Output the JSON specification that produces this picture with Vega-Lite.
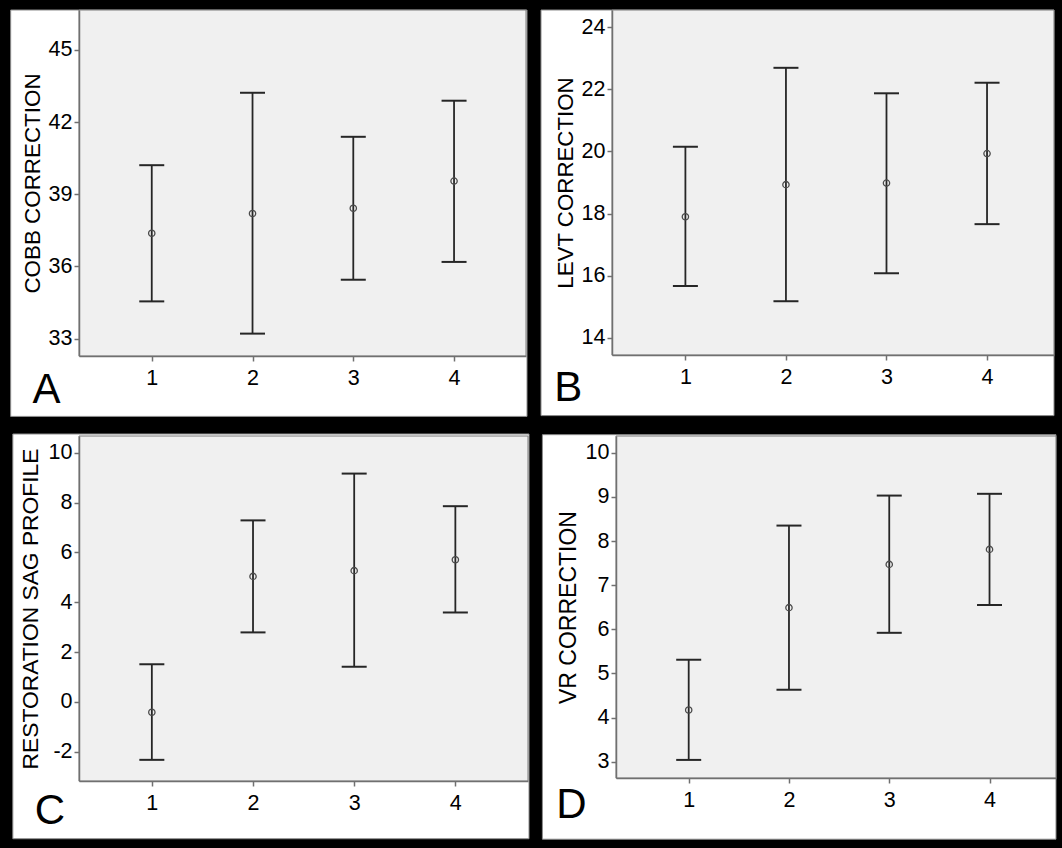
{
  "$schema": "https://vega.github.io/schema/vega-lite/v6.json",
  "background": "#000000",
  "padding": {"left": 10, "top": 9, "right": 8, "bottom": 9},
  "spacing": 16,
  "vconcat": [
    {
      "spacing": 12,
      "hconcat": [
        {
          "width": 447, "height": 346,
          "data": {"values": [
            {"g": 1, "lo": 34.55, "mean": 37.38, "hi": 40.21},
            {"g": 2, "lo": 33.21, "mean": 38.20, "hi": 43.22},
            {"g": 3, "lo": 35.45, "mean": 38.42, "hi": 41.39},
            {"g": 4, "lo": 36.19, "mean": 39.55, "hi": 42.89}
          ]},
          "layer": [
            {
              "data": {"values": [{"part": "panel"}]},
              "mark": {"type": "rect", "clip": false, "fill": "#ffffff", "stroke": "#8c8c8c", "strokeWidth": 1},
              "encoding": {
                "x": {"datum": -0.4, "type": "quantitative", "scale": {"domain": [0.278, 4.714], "nice": false, "zero": false},
                  "axis": {"zindex": 1, "labelFontSize": 21.5, "labelFont": "Liberation Sans", "labelPadding": 6, "values": [1, 2, 3, 4], "labelExpr": "'' + datum.value", "title": "A", "titleFontSize": 42, "titleX": -33, "titleY": 46.5, "titleAlign": "center", "titleBaseline": "alphabetic", "titleAngle": 0}},
                "x2": {"datum": 4.724},
                "y": {"datum": 29.77, "type": "quantitative", "scale": {"domain": [32.28, 46.66], "nice": false, "zero": false},
                  "axis": {"zindex": 1, "labelFontSize": 21.5, "labelFont": "Liberation Sans", "labelPadding": 2, "values": [33, 36, 39, 42, 45], "labelExpr": "'' + datum.value", "title": "COBB CORRECTION", "titleFontSize": 22.4, "titleX": -46.7, "titleAngle": 270, "titleBaseline": "middle", "titleAlign": "center"}},
                "y2": {"datum": 46.66}
              }
            },
            {
              "data": {"values": [{"part": "plot"}]},
              "mark": {"type": "rect", "clip": false, "fill": "#f0f0f0", "stroke": "#7a7a7a", "strokeWidth": 1},
              "encoding": {
                "x": {"datum": 0.278, "type": "quantitative", "scale": {"domain": [0.278, 4.714], "nice": false, "zero": false}},
                "x2": {"datum": 4.714},
                "y": {"datum": 32.28, "type": "quantitative", "scale": {"domain": [32.28, 46.66], "nice": false, "zero": false}},
                "y2": {"datum": 46.66}
              }
            },
            {
              "mark": {"type": "rule", "color": "#262626", "strokeWidth": 1.8},
              "encoding": {
                "x": {"field": "g", "type": "quantitative", "scale": {"domain": [0.278, 4.714], "nice": false, "zero": false}},
                "y": {"field": "lo", "type": "quantitative", "scale": {"domain": [32.28, 46.66], "nice": false, "zero": false}},
                "y2": {"field": "hi"}
              }
            },
            {
              "mark": {"type": "tick", "orient": "horizontal", "size": 25, "thickness": 2, "color": "#262626", "opacity": 1},
              "encoding": {
                "x": {"field": "g", "type": "quantitative", "scale": {"domain": [0.278, 4.714], "nice": false, "zero": false}},
                "y": {"field": "lo", "type": "quantitative", "scale": {"domain": [32.28, 46.66], "nice": false, "zero": false}}
              }
            },
            {
              "mark": {"type": "tick", "orient": "horizontal", "size": 25, "thickness": 2, "color": "#262626", "opacity": 1},
              "encoding": {
                "x": {"field": "g", "type": "quantitative", "scale": {"domain": [0.278, 4.714], "nice": false, "zero": false}},
                "y": {"field": "hi", "type": "quantitative", "scale": {"domain": [32.28, 46.66], "nice": false, "zero": false}}
              }
            },
            {
              "mark": {"type": "point", "shape": "circle", "filled": false, "size": 40, "color": "#4a4a4a", "strokeWidth": 1.3, "opacity": 1},
              "encoding": {
                "x": {"field": "g", "type": "quantitative", "scale": {"domain": [0.278, 4.714], "nice": false, "zero": false}},
                "y": {"field": "mean", "type": "quantitative", "scale": {"domain": [32.28, 46.66], "nice": false, "zero": false}}
              }
            }
          ]
        },
        {
          "width": 442, "height": 345,
          "data": {"values": [
            {"g": 1, "lo": 15.67, "mean": 17.90, "hi": 20.15},
            {"g": 2, "lo": 15.18, "mean": 18.93, "hi": 22.69},
            {"g": 3, "lo": 16.08, "mean": 18.98, "hi": 21.87},
            {"g": 4, "lo": 17.66, "mean": 19.93, "hi": 22.21}
          ]},
          "layer": [
            {
              "data": {"values": [{"part": "panel"}]},
              "mark": {"type": "rect", "clip": false, "fill": "#ffffff", "stroke": "#8c8c8c", "strokeWidth": 1},
              "encoding": {
                "x": {"datum": -0.436, "type": "quantitative", "scale": {"domain": [0.27, 4.666], "nice": false, "zero": false},
                  "axis": {"zindex": 1, "labelFontSize": 21.5, "labelFont": "Liberation Sans", "labelPadding": 6, "values": [1, 2, 3, 4], "labelExpr": "'' + datum.value", "title": "B", "titleFontSize": 42, "titleX": -44.2, "titleY": 45.7, "titleAlign": "center", "titleBaseline": "alphabetic", "titleAngle": 0}},
                "x2": {"datum": 4.666},
                "y": {"datum": 11.5, "type": "quantitative", "scale": {"domain": [13.45, 24.55], "nice": false, "zero": false},
                  "axis": {"zindex": 1, "labelFontSize": 21.5, "labelFont": "Liberation Sans", "labelPadding": 2, "values": [14, 16, 18, 20, 22, 24], "labelExpr": "'' + datum.value", "title": "LEVT CORRECTION", "titleFontSize": 22.3, "titleX": -46.2, "titleAngle": 270, "titleBaseline": "middle", "titleAlign": "center"}},
                "y2": {"datum": 24.55}
              }
            },
            {
              "data": {"values": [{"part": "plot"}]},
              "mark": {"type": "rect", "clip": false, "fill": "#f0f0f0", "stroke": "#7a7a7a", "strokeWidth": 1},
              "encoding": {
                "x": {"datum": 0.27, "type": "quantitative", "scale": {"domain": [0.27, 4.666], "nice": false, "zero": false}},
                "x2": {"datum": 4.666},
                "y": {"datum": 13.45, "type": "quantitative", "scale": {"domain": [13.45, 24.55], "nice": false, "zero": false}},
                "y2": {"datum": 24.55}
              }
            },
            {
              "mark": {"type": "rule", "color": "#262626", "strokeWidth": 1.8},
              "encoding": {
                "x": {"field": "g", "type": "quantitative", "scale": {"domain": [0.27, 4.666], "nice": false, "zero": false}},
                "y": {"field": "lo", "type": "quantitative", "scale": {"domain": [13.45, 24.55], "nice": false, "zero": false}},
                "y2": {"field": "hi"}
              }
            },
            {
              "mark": {"type": "tick", "orient": "horizontal", "size": 25, "thickness": 2, "color": "#262626", "opacity": 1},
              "encoding": {
                "x": {"field": "g", "type": "quantitative", "scale": {"domain": [0.27, 4.666], "nice": false, "zero": false}},
                "y": {"field": "lo", "type": "quantitative", "scale": {"domain": [13.45, 24.55], "nice": false, "zero": false}}
              }
            },
            {
              "mark": {"type": "tick", "orient": "horizontal", "size": 25, "thickness": 2, "color": "#262626", "opacity": 1},
              "encoding": {
                "x": {"field": "g", "type": "quantitative", "scale": {"domain": [0.27, 4.666], "nice": false, "zero": false}},
                "y": {"field": "hi", "type": "quantitative", "scale": {"domain": [13.45, 24.55], "nice": false, "zero": false}}
              }
            },
            {
              "mark": {"type": "point", "shape": "circle", "filled": false, "size": 40, "color": "#4a4a4a", "strokeWidth": 1.3, "opacity": 1},
              "encoding": {
                "x": {"field": "g", "type": "quantitative", "scale": {"domain": [0.27, 4.666], "nice": false, "zero": false}},
                "y": {"field": "mean", "type": "quantitative", "scale": {"domain": [13.45, 24.55], "nice": false, "zero": false}}
              }
            }
          ]
        }
      ]
    },
    {
      "spacing": 11,
      "hconcat": [
        {
          "width": 449, "height": 345,
          "data": {"values": [
            {"g": 1, "lo": -2.33, "mean": -0.42, "hi": 1.51},
            {"g": 2, "lo": 2.79, "mean": 5.04, "hi": 7.29},
            {"g": 3, "lo": 1.41, "mean": 5.27, "hi": 9.17},
            {"g": 4, "lo": 3.59, "mean": 5.71, "hi": 7.86}
          ]},
          "layer": [
            {
              "data": {"values": [{"part": "panel"}]},
              "mark": {"type": "rect", "clip": false, "fill": "#ffffff", "stroke": "#8c8c8c", "strokeWidth": 1},
              "encoding": {
                "x": {"datum": -0.374, "type": "quantitative", "scale": {"domain": [0.28, 4.718], "nice": false, "zero": false},
                  "axis": {"zindex": 1, "labelFontSize": 21.5, "labelFont": "Liberation Sans", "labelPadding": 6, "values": [1, 2, 3, 4], "labelExpr": "'' + datum.value", "title": "C", "titleFontSize": 42, "titleX": -29.7, "titleY": 42.4, "titleAlign": "center", "titleBaseline": "alphabetic", "titleAngle": 0}},
                "x2": {"datum": 4.728},
                "y": {"datum": -5.5, "type": "quantitative", "scale": {"domain": [-3.18, 10.68], "nice": false, "zero": false},
                  "axis": {"zindex": 1, "labelFontSize": 21.5, "labelFont": "Liberation Sans", "labelPadding": 2, "values": [-2, 0, 2, 4, 6, 8, 10], "labelExpr": "'' + datum.value", "title": "RESTORATION SAG PROFILE", "titleFontSize": 22.8, "titleX": -48.7, "titleAngle": 270, "titleBaseline": "middle", "titleAlign": "center"}},
                "y2": {"datum": 10.76}
              }
            },
            {
              "data": {"values": [{"part": "plot"}]},
              "mark": {"type": "rect", "clip": false, "fill": "#f0f0f0", "stroke": "#7a7a7a", "strokeWidth": 1},
              "encoding": {
                "x": {"datum": 0.28, "type": "quantitative", "scale": {"domain": [0.28, 4.718], "nice": false, "zero": false}},
                "x2": {"datum": 4.718},
                "y": {"datum": -3.18, "type": "quantitative", "scale": {"domain": [-3.18, 10.68], "nice": false, "zero": false}},
                "y2": {"datum": 10.68}
              }
            },
            {
              "mark": {"type": "rule", "color": "#262626", "strokeWidth": 1.8},
              "encoding": {
                "x": {"field": "g", "type": "quantitative", "scale": {"domain": [0.28, 4.718], "nice": false, "zero": false}},
                "y": {"field": "lo", "type": "quantitative", "scale": {"domain": [-3.18, 10.68], "nice": false, "zero": false}},
                "y2": {"field": "hi"}
              }
            },
            {
              "mark": {"type": "tick", "orient": "horizontal", "size": 25, "thickness": 2, "color": "#262626", "opacity": 1},
              "encoding": {
                "x": {"field": "g", "type": "quantitative", "scale": {"domain": [0.28, 4.718], "nice": false, "zero": false}},
                "y": {"field": "lo", "type": "quantitative", "scale": {"domain": [-3.18, 10.68], "nice": false, "zero": false}}
              }
            },
            {
              "mark": {"type": "tick", "orient": "horizontal", "size": 25, "thickness": 2, "color": "#262626", "opacity": 1},
              "encoding": {
                "x": {"field": "g", "type": "quantitative", "scale": {"domain": [0.28, 4.718], "nice": false, "zero": false}},
                "y": {"field": "hi", "type": "quantitative", "scale": {"domain": [-3.18, 10.68], "nice": false, "zero": false}}
              }
            },
            {
              "mark": {"type": "point", "shape": "circle", "filled": false, "size": 40, "color": "#4a4a4a", "strokeWidth": 1.3, "opacity": 1},
              "encoding": {
                "x": {"field": "g", "type": "quantitative", "scale": {"domain": [0.28, 4.718], "nice": false, "zero": false}},
                "y": {"field": "mean", "type": "quantitative", "scale": {"domain": [-3.18, 10.68], "nice": false, "zero": false}}
              }
            }
          ]
        },
        {
          "width": 440, "height": 342,
          "data": {"values": [
            {"g": 1, "lo": 3.04, "mean": 4.17, "hi": 5.31},
            {"g": 2, "lo": 4.63, "mean": 6.49, "hi": 8.35},
            {"g": 3, "lo": 5.92, "mean": 7.47, "hi": 9.03},
            {"g": 4, "lo": 6.55, "mean": 7.81, "hi": 9.07}
          ]},
          "layer": [
            {
              "data": {"values": [{"part": "panel"}]},
              "mark": {"type": "rect", "clip": false, "fill": "#ffffff", "stroke": "#8c8c8c", "strokeWidth": 1},
              "encoding": {
                "x": {"datum": -0.459, "type": "quantitative", "scale": {"domain": [0.275, 4.663], "nice": false, "zero": false},
                  "axis": {"zindex": 1, "labelFontSize": 21.5, "labelFont": "Liberation Sans", "labelPadding": 6, "values": [1, 2, 3, 4], "labelExpr": "'' + datum.value", "title": "D", "titleFontSize": 42, "titleX": -45, "titleY": 39, "titleAlign": "center", "titleBaseline": "alphabetic", "titleAngle": 0}},
                "x2": {"datum": 4.663},
                "y": {"datum": 1.243, "type": "quantitative", "scale": {"domain": [2.63, 10.38], "nice": false, "zero": false},
                  "axis": {"zindex": 1, "labelFontSize": 21.5, "labelFont": "Liberation Sans", "labelPadding": 2, "values": [3, 4, 5, 6, 7, 8, 9, 10], "labelExpr": "'' + datum.value", "title": "VR CORRECTION", "titleFontSize": 23, "titleX": -48, "titleAngle": 270, "titleBaseline": "middle", "titleAlign": "center"}},
                "y2": {"datum": 10.41}
              }
            },
            {
              "data": {"values": [{"part": "plot"}]},
              "mark": {"type": "rect", "clip": false, "fill": "#f0f0f0", "stroke": "#7a7a7a", "strokeWidth": 1},
              "encoding": {
                "x": {"datum": 0.275, "type": "quantitative", "scale": {"domain": [0.275, 4.663], "nice": false, "zero": false}},
                "x2": {"datum": 4.663},
                "y": {"datum": 2.63, "type": "quantitative", "scale": {"domain": [2.63, 10.38], "nice": false, "zero": false}},
                "y2": {"datum": 10.38}
              }
            },
            {
              "mark": {"type": "rule", "color": "#262626", "strokeWidth": 1.8},
              "encoding": {
                "x": {"field": "g", "type": "quantitative", "scale": {"domain": [0.275, 4.663], "nice": false, "zero": false}},
                "y": {"field": "lo", "type": "quantitative", "scale": {"domain": [2.63, 10.38], "nice": false, "zero": false}},
                "y2": {"field": "hi"}
              }
            },
            {
              "mark": {"type": "tick", "orient": "horizontal", "size": 25, "thickness": 2, "color": "#262626", "opacity": 1},
              "encoding": {
                "x": {"field": "g", "type": "quantitative", "scale": {"domain": [0.275, 4.663], "nice": false, "zero": false}},
                "y": {"field": "lo", "type": "quantitative", "scale": {"domain": [2.63, 10.38], "nice": false, "zero": false}}
              }
            },
            {
              "mark": {"type": "tick", "orient": "horizontal", "size": 25, "thickness": 2, "color": "#262626", "opacity": 1},
              "encoding": {
                "x": {"field": "g", "type": "quantitative", "scale": {"domain": [0.275, 4.663], "nice": false, "zero": false}},
                "y": {"field": "hi", "type": "quantitative", "scale": {"domain": [2.63, 10.38], "nice": false, "zero": false}}
              }
            },
            {
              "mark": {"type": "point", "shape": "circle", "filled": false, "size": 40, "color": "#4a4a4a", "strokeWidth": 1.3, "opacity": 1},
              "encoding": {
                "x": {"field": "g", "type": "quantitative", "scale": {"domain": [0.275, 4.663], "nice": false, "zero": false}},
                "y": {"field": "mean", "type": "quantitative", "scale": {"domain": [2.63, 10.38], "nice": false, "zero": false}}
              }
            }
          ]
        }
      ]
    }
  ],
  "config": {
    "view": {"stroke": null, "fill": null},
    "axis": {
      "grid": false,
      "domainColor": "#707070", "domainWidth": 1.5,
      "tickColor": "#707070", "tickWidth": 1.5, "tickSize": 5,
      "labelColor": "#000000", "labelFont": "Liberation Sans", "labelFontSize": 21.5,
      "titleFont": "Liberation Sans", "titleColor": "#000000", "titleFontWeight": "normal",
      "labelFlush": false, "labelOverlap": false, "labelBound": false
    }
  }
}
